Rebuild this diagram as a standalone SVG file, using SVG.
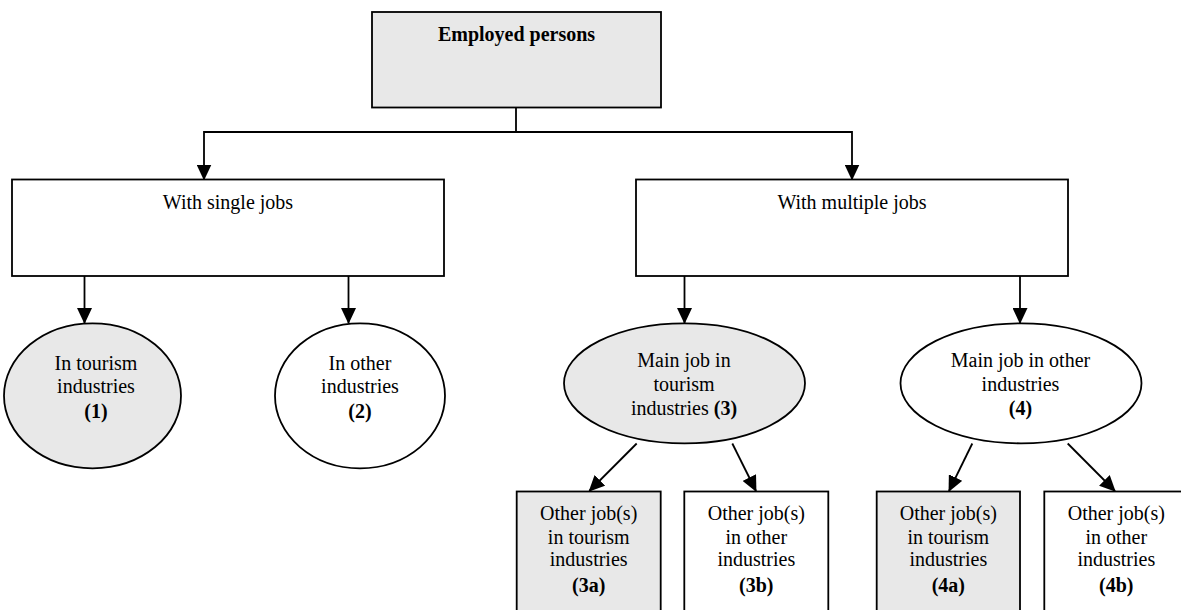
<svg xmlns="http://www.w3.org/2000/svg" width="1181" height="610" viewBox="0 0 1181 610">
<style>
  .box { stroke: #000; stroke-width: 1.8; }
  .g { fill: #e8e8e8; }
  .w { fill: #fff; }
  .t { font-family: 'Liberation Serif', 'DejaVu Serif', serif; font-size: 20px; fill: #000; text-anchor: middle; }
  .b { font-weight: bold; }
  .conn { fill: none; stroke: #000; stroke-width: 1.8; }
</style>
<defs>
  <marker id="arr" markerUnits="userSpaceOnUse" viewBox="0 0 16 15" refX="15" refY="7.5" markerWidth="16" markerHeight="15" orient="auto">
    <path d="M0,0 L16,7.5 L0,15 z" fill="#000"/>
  </marker>
</defs>
<rect width="1181" height="610" fill="#fff"/>

<g id="connectors">
  <path class="conn" d="M516,107.5 V132 H204 V179.5" marker-end="url(#arr)"/>
  <path class="conn" d="M516,132 H852 V179.5" marker-end="url(#arr)"/>
  <path class="conn" d="M84.5,276 V323" marker-end="url(#arr)"/>
  <path class="conn" d="M348.5,276 V323" marker-end="url(#arr)"/>
  <path class="conn" d="M684.5,276 V323" marker-end="url(#arr)"/>
  <path class="conn" d="M1020,276 V323" marker-end="url(#arr)"/>
  <path class="conn" d="M636.7,443.5 L589.3,491" marker-end="url(#arr)"/>
  <path class="conn" d="M732.3,443.5 L756,491" marker-end="url(#arr)"/>
  <path class="conn" d="M972.3,443.5 L949,491" marker-end="url(#arr)"/>
  <path class="conn" d="M1067.7,443.5 L1115,491" marker-end="url(#arr)"/>
</g>

<g id="employed">
  <rect class="box g" x="372" y="12" width="289" height="95.5"/>
  <text class="t b" x="516.5" y="41">Employed persons</text>
</g>

<g id="single">
  <rect class="box w" x="12" y="179.5" width="432" height="96.5"/>
  <text class="t" x="228" y="209">With single jobs</text>
</g>

<g id="multiple">
  <rect class="box w" x="636" y="179.5" width="432" height="96.5"/>
  <text class="t" x="852" y="209">With multiple jobs</text>
</g>

<g id="n1">
  <ellipse class="box g" cx="92.5" cy="395.8" rx="88.5" ry="72.5"/>
  <text class="t" x="96" y="369.5">In tourism</text>
  <text class="t" x="96" y="393">industries</text>
  <text class="t b" x="96" y="418">(1)</text>
</g>

<g id="n2">
  <ellipse class="box w" cx="360" cy="395.8" rx="85" ry="72.5"/>
  <text class="t" x="360" y="369.5">In other</text>
  <text class="t" x="360" y="393">industries</text>
  <text class="t b" x="360" y="418">(2)</text>
</g>

<g id="n3">
  <ellipse class="box g" cx="684.5" cy="383.3" rx="120.5" ry="60"/>
  <text class="t" x="684" y="367.3">Main job in</text>
  <text class="t" x="684" y="391">tourism</text>
  <text class="t" x="684" y="415">industries <tspan class="b">(3)</tspan></text>
</g>

<g id="n4">
  <ellipse class="box w" cx="1021" cy="383.3" rx="120.5" ry="60"/>
  <text class="t" x="1020.5" y="367.3">Main job in other</text>
  <text class="t" x="1020.5" y="391">industries</text>
  <text class="t b" x="1020.5" y="415">(4)</text>
</g>

<g id="n3a">
  <rect class="box g" x="516.7" y="491.5" width="144" height="130"/>
  <text class="t" x="588.7" y="520">Other job(s)</text>
  <text class="t" x="588.7" y="543.5">in tourism</text>
  <text class="t" x="588.7" y="566">industries</text>
  <text class="t b" x="588.7" y="591.5">(3a)</text>
</g>

<g id="n3b">
  <rect class="box w" x="684.3" y="491.5" width="144" height="130"/>
  <text class="t" x="756.3" y="520">Other job(s)</text>
  <text class="t" x="756.3" y="543.5">in other</text>
  <text class="t" x="756.3" y="566">industries</text>
  <text class="t b" x="756.3" y="591.5">(3b)</text>
</g>

<g id="n4a">
  <rect class="box g" x="876.7" y="491.5" width="143.3" height="130"/>
  <text class="t" x="948.3" y="520">Other job(s)</text>
  <text class="t" x="948.3" y="543.5">in tourism</text>
  <text class="t" x="948.3" y="566">industries</text>
  <text class="t b" x="948.3" y="591.5">(4a)</text>
</g>

<g id="n4b">
  <rect class="box w" x="1044.3" y="491.5" width="144" height="130"/>
  <text class="t" x="1116.3" y="520">Other job(s)</text>
  <text class="t" x="1116.3" y="543.5">in other</text>
  <text class="t" x="1116.3" y="566">industries</text>
  <text class="t b" x="1116.3" y="591.5">(4b)</text>
</g>
</svg>
